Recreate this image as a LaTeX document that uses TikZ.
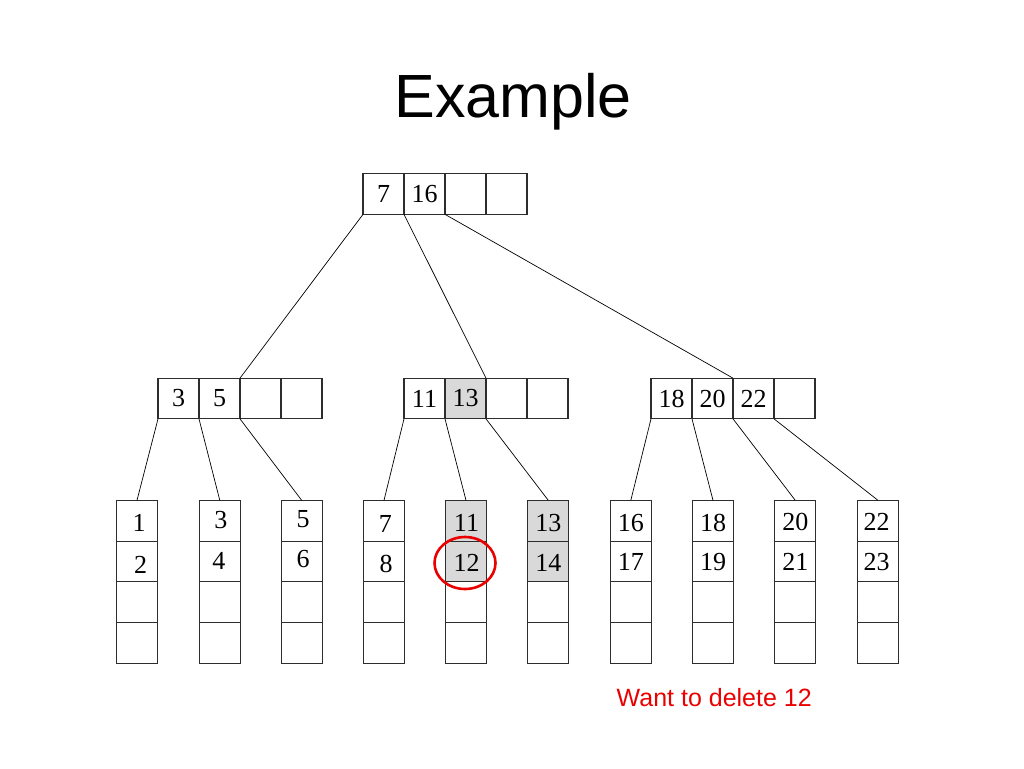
\documentclass[tikz,border=0pt]{standalone}
\usepackage{fontspec}
\setmainfont{Liberation Serif}
\newfontfamily\sansf{Liberation Sans}
\usetikzlibrary{shapes.geometric}
\definecolor{cellgray}{RGB}{217,217,217}
\definecolor{lineblk}{RGB}{45,45,45}
\definecolor{delred}{RGB}{235,0,0}
% shifted label: dx (right), dy (down), text
\newcommand\off[3]{\makebox[0pt]{\hspace{#1pt}\hspace{#1pt}\smash{\raisebox{-#2pt}{#3}}}\vphantom{0}}
\begin{document}
\begin{tikzpicture}[x=1pt,y=-1pt,
  cell/.style={draw=lineblk, line width=1.1pt, minimum width=41pt, minimum height=40.7pt,
    inner sep=0pt, outer sep=0pt, font=\fontsize{26}{26}\selectfont},
  hl/.style={cell, fill=cellgray},
  link/.style={draw=black, line width=0.7pt},
  titlefont/.style={font=\sansf\fontsize{61}{61}\selectfont},
  notefont/.style={font=\sansf\fontsize{25}{25}\selectfont, text=delred}]
\useasboundingbox (0,0) rectangle (1024,768);
\fill[white] (0,0) rectangle (1024,768);

% title
\node[titlefont, anchor=base, inner sep=0pt] (title) at (513,117.3) {Example};

% root
\node[cell] (r1) at (383.5,194) {7};
\node[cell] (r2) at (424.5,194) {16};
\node[cell] (r3) at (465.5,194) {};
\node[cell] (r4) at (506.5,194) {};

% left internal
\node[cell] (l1) at (178.5,398.5) {3};
\node[cell] (l2) at (219.5,398.5) {5};
\node[cell] (l3) at (260.5,398.5) {};
\node[cell] (l4) at (301.5,398.5) {};

% middle internal
\node[cell] (m1) at (424.5,398.5) {11};
\node[hl]   (m2) at (465.5,398.5) {13};
\node[cell] (m3) at (506.5,398.5) {};
\node[cell] (m4) at (547.5,398.5) {};

% right internal
\node[cell] (g1) at (671.5,398.5) {18};
\node[cell] (g2) at (712.5,398.5) {20};
\node[cell] (g3) at (753.5,398.5) {22};
\node[cell] (g4) at (794.5,398.5) {};

% leaves: rows at y = 520.7, 561.4, 602.1, 642.8
\newcommand\leaf[6]{%
  \node[#3] (#1a) at (#2,520.7) {#4};
  \node[#3] (#1b) at (#2,561.4) {#5};
  \node[cell] (#1c) at (#2,602.1) {};
  \node[cell] (#1d) at (#2,642.8) {};}
\leaf{f1}{137}{cell}{\off{2}{2.6}{1}}{\off{3.5}{3.7}{2}}{}{}
\leaf{f2}{219.8}{cell}{\off{1}{-0.7}{3}}{\off{-1}{0}{4}}{}{}
\leaf{f3}{301.7}{cell}{\off{1.3}{-1.7}{5}}{\off{1.3}{-2.8}{6}}{}{}
\leaf{f4}{384}{cell}{\off{1.3}{3.3}{7}}{\off{2}{2.7}{8}}{}{}
\leaf{f5}{466}{hl}{\off{0.5}{2.3}{11}}{\off{0.5}{1.7}{12}}{}{}
\leaf{f6}{548.3}{hl}{\off{0}{2.3}{13}}{\off{0}{1.2}{14}}{}{}
\leaf{f7}{630.8}{cell}{\off{0}{2}{16}}{\off{0}{0.4}{17}}{}{}
\leaf{f8}{713}{cell}{\off{0}{2}{18}}{\off{0}{0.8}{19}}{}{}
\leaf{f9}{795.3}{cell}{\off{0}{1.5}{20}}{\off{0}{0.8}{21}}{}{}
\leaf{f10}{878}{cell}{\off{-1.3}{1.5}{22}}{\off{-1.3}{0.8}{23}}{}{}

% connectors root -> internal
\draw[link] (r1.south west) -- (l3.north west);
\draw[link] (r2.south west) -- (m3.north west);
\draw[link] (r3.south west) -- (g3.north west);

% internal -> leaves
\draw[link] (l1.south west) -- (f1a.north);
\draw[link] (l2.south west) -- (f2a.north);
\draw[link] (l3.south west) -- (f3a.north);
\draw[link] (m1.south west) -- (f4a.north);
\draw[link] (m2.south west) -- (f5a.north);
\draw[link] (m3.south west) -- (f6a.north);
\draw[link] (g1.south west) -- (f7a.north);
\draw[link] (g2.south west) -- (f8a.north);
\draw[link] (g3.south west) -- (f9a.north);
\draw[link] (g4.south west) -- (f10a.north);

% red mark
\node[ellipse, draw=delred, line width=2.6pt, minimum width=61pt, minimum height=52pt, inner sep=0pt] (mark) at (465,563) {};

% note
\node[notefont, anchor=base west, inner sep=0pt] (note) at (616.5,706) {Want to delete 12};
\end{tikzpicture}
\end{document}
